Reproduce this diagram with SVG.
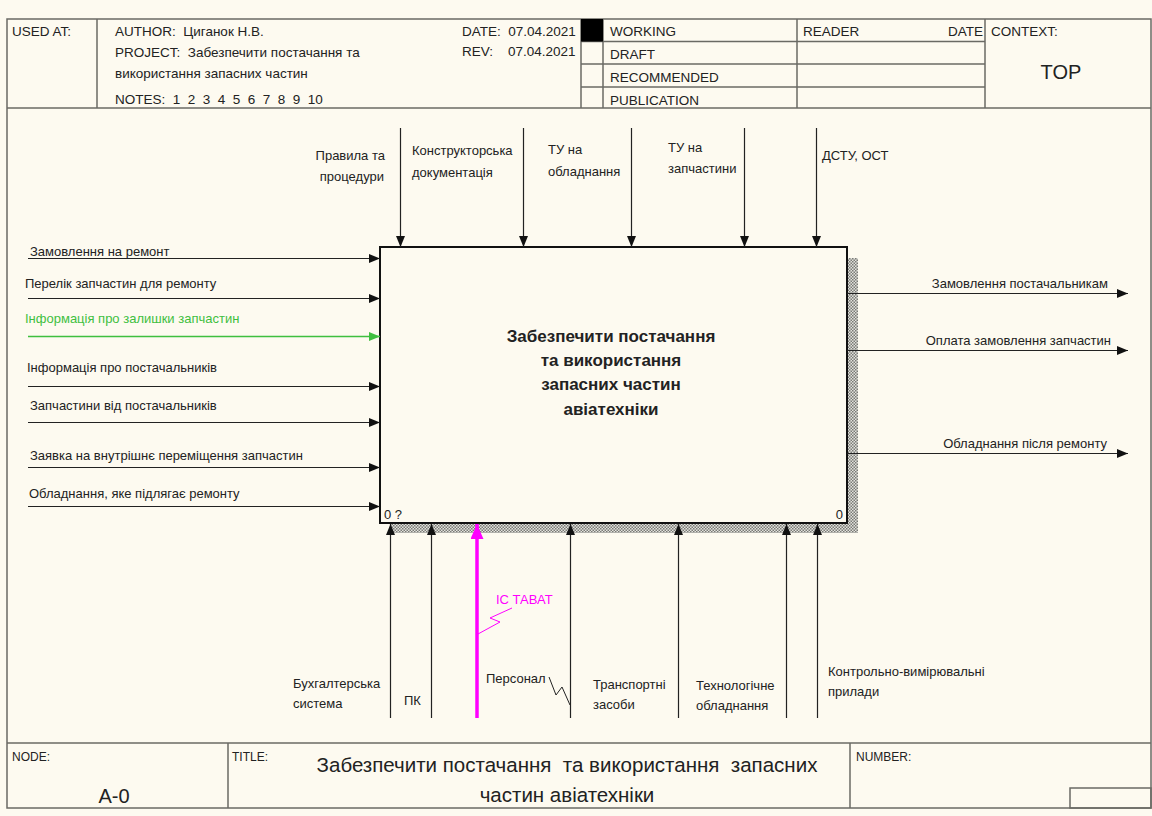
<svg xmlns="http://www.w3.org/2000/svg" width="1152" height="816" viewBox="0 0 1152 816" xml:space="preserve">
<defs>
<style>
text{font-family:"Liberation Sans",Arial,sans-serif;fill:#222;white-space:pre;}
.h{font-size:13.5px;}
.l{font-size:13px;}
.fr{fill:none;stroke:#6a6a64;stroke-width:1.5;}
.c{fill:none;stroke:#222;stroke-width:1.2;}
.g{fill:none;stroke:#3fbf3f;stroke-width:1.3;}
.m{fill:none;stroke:#ff00ff;stroke-width:3.5;}
.sq{fill:none;stroke:#222;stroke-width:1;}
.sqm{fill:none;stroke:#ff00ff;stroke-width:1;}
</style>
<marker id="a" markerUnits="userSpaceOnUse" markerWidth="11" markerHeight="9" refX="11" refY="4.5" orient="auto"><path d="M0,0 L11,4.5 L0,9 z" fill="#111"/></marker>
<marker id="ag" markerUnits="userSpaceOnUse" markerWidth="11" markerHeight="9" refX="11" refY="4.5" orient="auto"><path d="M0,0 L11,4.5 L0,9 z" fill="#3fbf3f"/></marker>
<marker id="am" markerUnits="userSpaceOnUse" markerWidth="15" markerHeight="13" refX="15" refY="6.5" orient="auto"><path d="M0,0 L15,6.5 L0,13 z" fill="#ff00ff"/></marker>
<pattern id="hatch" width="3" height="3" patternUnits="userSpaceOnUse"><rect width="3" height="3" fill="#e2e2dc"/><rect width="1.5" height="1.5" fill="#7a7a76"/><rect x="1.5" y="1.5" width="1.5" height="1.5" fill="#7a7a76"/></pattern>
</defs>
<rect x="0" y="0" width="1152" height="816" fill="#fdfaf0"/>
<g id="header">
<rect class="fr" x="7" y="19" width="1144" height="789"/>
<line class="fr" x1="7" y1="108" x2="1151" y2="108"/>
<line class="fr" x1="97" y1="19" x2="97" y2="108"/>
<line class="fr" x1="581" y1="19" x2="581" y2="108"/>
<line class="fr" x1="603" y1="19" x2="603" y2="108"/>
<line class="fr" x1="797" y1="19" x2="797" y2="108"/>
<line class="fr" x1="985" y1="19" x2="985" y2="108"/>
<line class="fr" x1="581" y1="41.5" x2="985" y2="41.5"/>
<line class="fr" x1="581" y1="64" x2="985" y2="64"/>
<line class="fr" x1="581" y1="87" x2="985" y2="87"/>
<rect x="581" y="19" width="22" height="22.5" fill="#000"/>
<text class="h" x="12" y="36">USED AT:</text>
<text class="h" x="115" y="36">AUTHOR:  Циганок Н.В.</text>
<text class="h" x="115" y="57">PROJECT:  Забезпечити постачання та</text>
<text class="h" x="115" y="78">використання запасних частин</text>
<text class="h" x="115" y="104">NOTES:  1  2  3  4  5  6  7  8  9  10</text>
<text class="h" x="462" y="36">DATE:  07.04.2021</text>
<text class="h" x="462" y="56">REV:    07.04.2021</text>
<text class="h" x="610" y="36">WORKING</text>
<text class="h" x="610" y="59">DRAFT</text>
<text class="h" x="610" y="82">RECOMMENDED</text>
<text class="h" x="610" y="105">PUBLICATION</text>
<text class="h" x="803" y="36">READER</text>
<text class="h" x="983" y="36" text-anchor="end">DATE</text>
<text class="h" x="991" y="36">CONTEXT:</text>
<text x="1061" y="79" font-size="20" text-anchor="middle">TOP</text>
</g>
<g id="footer">
<line class="fr" x1="7" y1="743" x2="1151" y2="743"/>
<line class="fr" x1="228" y1="743" x2="228" y2="808"/>
<line class="fr" x1="850" y1="743" x2="850" y2="808"/>
<rect class="fr" x="1070" y="788" width="81" height="20"/>
<text x="12" y="761" font-size="12">NODE:</text>
<text x="114" y="803" font-size="20" text-anchor="middle">A-0</text>
<text x="232" y="761" font-size="12">TITLE:</text>
<text x="567" y="772" font-size="20.5" text-anchor="middle">Забезпечити постачання  та використання  запасних</text>
<text x="567" y="802" font-size="20.5" text-anchor="middle">частин авіатехніки</text>
<text x="856" y="761" font-size="12">NUMBER:</text>
</g>
<g id="A0">
<rect x="847" y="258" width="11" height="275" fill="url(#hatch)"/>
<rect x="390" y="523" width="468" height="10" fill="url(#hatch)"/>
<rect x="380" y="247" width="467" height="276" fill="#fdfaf0" stroke="#111" stroke-width="2"/>
<text x="611" y="342" font-size="17" font-weight="bold" text-anchor="middle">Забезпечити постачання</text>
<text x="611" y="366" font-size="17" font-weight="bold" text-anchor="middle">та використання</text>
<text x="611" y="390" font-size="17" font-weight="bold" text-anchor="middle">запасних частин</text>
<text x="611" y="415" font-size="17" font-weight="bold" text-anchor="middle">авіатехніки</text>
<text class="l" x="384" y="519">0 ?</text>
<text class="l" x="843" y="519" text-anchor="end">0</text>
</g>
<g id="connectors">
<line class="c" x1="28" y1="258.5" x2="380" y2="258.5" marker-end="url(#a)"/>
<line class="c" x1="28" y1="298.5" x2="380" y2="298.5" marker-end="url(#a)"/>
<line class="g" x1="28" y1="336.5" x2="380" y2="336.5" marker-end="url(#ag)"/>
<line class="c" x1="28" y1="386.5" x2="380" y2="386.5" marker-end="url(#a)"/>
<line class="c" x1="28" y1="422.5" x2="380" y2="422.5" marker-end="url(#a)"/>
<line class="c" x1="28" y1="467.5" x2="380" y2="467.5" marker-end="url(#a)"/>
<line class="c" x1="28" y1="506.5" x2="380" y2="506.5" marker-end="url(#a)"/>
<line class="c" x1="847" y1="293.5" x2="1128" y2="293.5" marker-end="url(#a)"/>
<line class="c" x1="847" y1="350.5" x2="1128" y2="350.5" marker-end="url(#a)"/>
<line class="c" x1="847" y1="453.5" x2="1128" y2="453.5" marker-end="url(#a)"/>
<line class="c" x1="400.5" y1="128" x2="400.5" y2="247" marker-end="url(#a)"/>
<line class="c" x1="523.5" y1="128" x2="523.5" y2="247" marker-end="url(#a)"/>
<line class="c" x1="631.5" y1="128" x2="631.5" y2="247" marker-end="url(#a)"/>
<line class="c" x1="744.5" y1="128" x2="744.5" y2="247" marker-end="url(#a)"/>
<line class="c" x1="816.5" y1="128" x2="816.5" y2="247" marker-end="url(#a)"/>
<line class="c" x1="390.5" y1="718" x2="390.5" y2="524" marker-end="url(#a)"/>
<line class="c" x1="431.5" y1="718" x2="431.5" y2="524" marker-end="url(#a)"/>
<line class="m" x1="477" y1="718" x2="477" y2="524" marker-end="url(#am)"/>
<line class="c" x1="570.5" y1="718" x2="570.5" y2="524" marker-end="url(#a)"/>
<line class="c" x1="678.5" y1="718" x2="678.5" y2="524" marker-end="url(#a)"/>
<line class="c" x1="786.5" y1="718" x2="786.5" y2="524" marker-end="url(#a)"/>
<line class="c" x1="817.5" y1="718" x2="817.5" y2="524" marker-end="url(#a)"/>
<polyline class="sqm" points="478,634 500,622 490,618 512,608"/>
<polyline class="sq" points="549,677 556,695 562,687 570,705"/>
</g>
<g id="labels">
<text class="l" x="30" y="256">Замовлення на ремонт</text>
<text class="l" x="25" y="288">Перелік запчастин для ремонту</text>
<text class="l" x="25" y="323" style="fill:#3fbf3f">Інформація про залишки запчастин</text>
<text class="l" x="27" y="372">Інформація про постачальників</text>
<text class="l" x="30" y="410">Запчастини від постачальників</text>
<text class="l" x="30" y="460">Заявка на внутрішнє переміщення запчастин</text>
<text class="l" x="29" y="498">Обладнання, яке підлягає ремонту</text>
<text class="l" x="1108" y="288" text-anchor="end">Замовлення постачальникам</text>
<text class="l" x="1111" y="345" text-anchor="end">Оплата замовлення запчастин</text>
<text class="l" x="1107" y="448" text-anchor="end">Обладнання після ремонту</text>
<text class="l" x="385" y="160" text-anchor="end">Правила та</text>
<text class="l" x="384" y="181" text-anchor="end">процедури</text>
<text class="l" x="412" y="155">Конструкторська</text>
<text class="l" x="412" y="177">документація</text>
<text class="l" x="548" y="154">ТУ на</text>
<text class="l" x="548" y="176">обладнання</text>
<text class="l" x="668" y="152">ТУ на</text>
<text class="l" x="668" y="173">запчастини</text>
<text class="l" x="822" y="160">ДСТУ, ОСТ</text>
<text class="l" x="293" y="688">Бухгалтерська</text>
<text class="l" x="293" y="708">система</text>
<text class="l" x="404" y="705">ПК</text>
<text class="l" x="496" y="604" style="fill:#ff00ff">ІС ТАВАТ</text>
<text class="l" x="486" y="683">Персонал</text>
<text class="l" x="593" y="689">Транспортні</text>
<text class="l" x="593" y="709">засоби</text>
<text class="l" x="696" y="690">Технологічне</text>
<text class="l" x="696" y="710">обладнання</text>
<text class="l" x="828" y="676">Контрольно-вимірювальні</text>
<text class="l" x="828" y="696">прилади</text>
</g>
</svg>
